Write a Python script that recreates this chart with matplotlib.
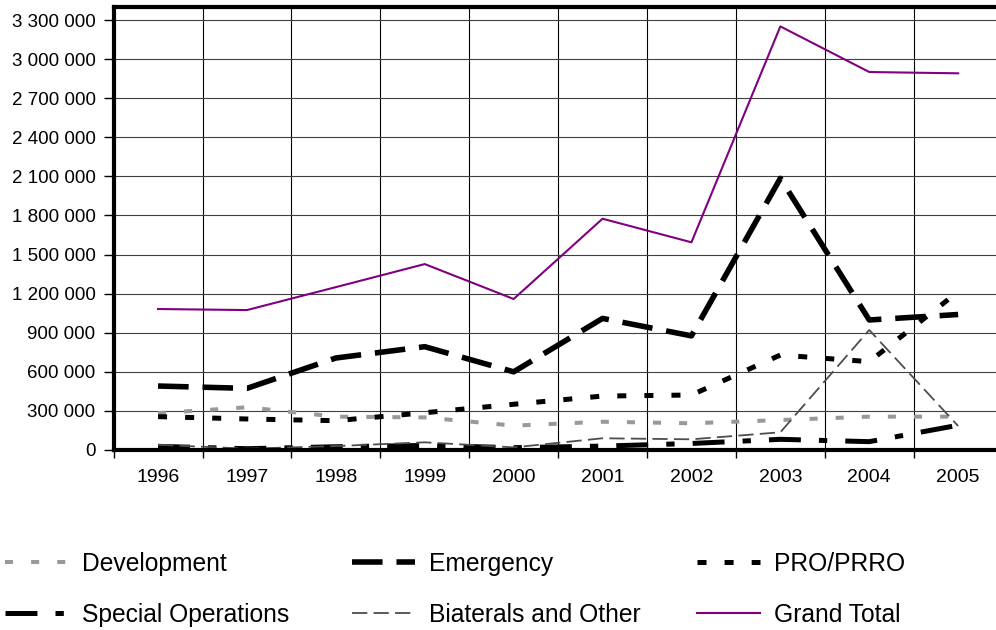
import numpy as np
import matplotlib
matplotlib.use('Agg')
import matplotlib.pyplot as plt
from matplotlib.ticker import FixedLocator, FuncFormatter

plt.rcParams['font.family'] = ['Liberation Sans', 'DejaVu Sans']
plt.rcParams['lines.scale_dashes'] = False

# DATA
years = ['1996', '1997', '1998', '1999', '2000', '2001', '2002', '2003', '2004', '2005']
development = [282000, 328000, 256000, 250000, 187000, 217000, 205000, 230000, 256000, 256000]
emergency = [491000, 473000, 706000, 793000, 600000, 1010000, 876000, 2085000, 998000, 1040000]
pro_prro = [256000, 238000, 225000, 286000, 351000, 414000, 422000, 729000, 678000, 1215000]
special_ops = [28000, 10000, 25000, 35000, 18000, 30000, 50000, 82000, 64000, 190000]
bilaterals = [40000, 10000, 30000, 59000, 20000, 90000, 82000, 136000, 921000, 184000]
grand_total = [1082000, 1074000, 1250000, 1427000, 1159000, 1775000, 1594000, 3251000, 2901000, 2891000]

fig = plt.figure(figsize=(9.96, 6.3), dpi=100)
ax = fig.add_axes([113.6 / 996, 1 - 450 / 630, 889 / 996, 443 / 630])

x = np.arange(len(years))

# SERIES
l_dev, = ax.plot(x, development, color='#999999', lw=2.9, dashes=(5.8, 13), label='Development')
l_em, = ax.plot(x, emergency, color='black', lw=4.0, dashes=(22, 10), label='Emergency')
l_pro, = ax.plot(x, pro_prro, color='black', lw=3.6, dashes=(6.5, 13), label='PRO/PRRO')
l_sp, = ax.plot(x, special_ops, color='black', lw=3.6, dashes=(23, 13, 6, 13), label='Special Operations')
l_bi, = ax.plot(x, bilaterals, color='#4d4d4d', lw=1.3, dashes=(11, 4.5), label='Biaterals and Other')
l_gt, = ax.plot(x, grand_total, color='#800080', lw=1.5, label='Grand Total')

# AXES
ax.set_xlim(-0.5, len(years) - 0.5)
ax.set_ylim(0, 3400000)
ax.yaxis.set_major_locator(FixedLocator(np.arange(0, 3300001, 300000)))
ax.yaxis.set_major_formatter(FuncFormatter(lambda v, p: '{:,}'.format(int(v)).replace(',', ' ')))

ax.xaxis.set_major_locator(FixedLocator(np.arange(-0.5, len(years), 1.0)))
ax.xaxis.set_major_formatter(FuncFormatter(lambda v, p: ''))
ax.xaxis.set_minor_locator(FixedLocator(x))
ax.set_xticklabels(years, minor=True)

ax.tick_params(axis='x', which='major', direction='out', length=6, width=1, color='black')
ax.tick_params(axis='x', which='minor', length=0, pad=14, labelsize=14)
ax.tick_params(axis='y', direction='out', length=7, width=1, pad=6, labelsize=13.5)

ax.grid(axis='y', which='major', color='#404040', lw=0.8)
ax.grid(axis='x', which='major', color='black', lw=0.8)
ax.set_axisbelow(True)

for s in ['left', 'top', 'bottom']:
    ax.spines[s].set_linewidth(3)
ax.spines['right'].set_visible(False)

# LEGEND (three columns, two rows)
cols = [([l_dev, l_sp], 5), ([l_em, l_bi], 352), ([l_pro, l_gt], 697)]
for handles, xp in cols:
    leg = fig.legend(handles=handles, loc='upper left', bbox_to_anchor=(xp / 996, 1 - 552 / 630),
                     frameon=False, fontsize=17.7, handlelength=2.55, handletextpad=0.6,
                     labelspacing=1.1, borderpad=0, borderaxespad=0)

plt.savefig('out.png', dpi=100)
